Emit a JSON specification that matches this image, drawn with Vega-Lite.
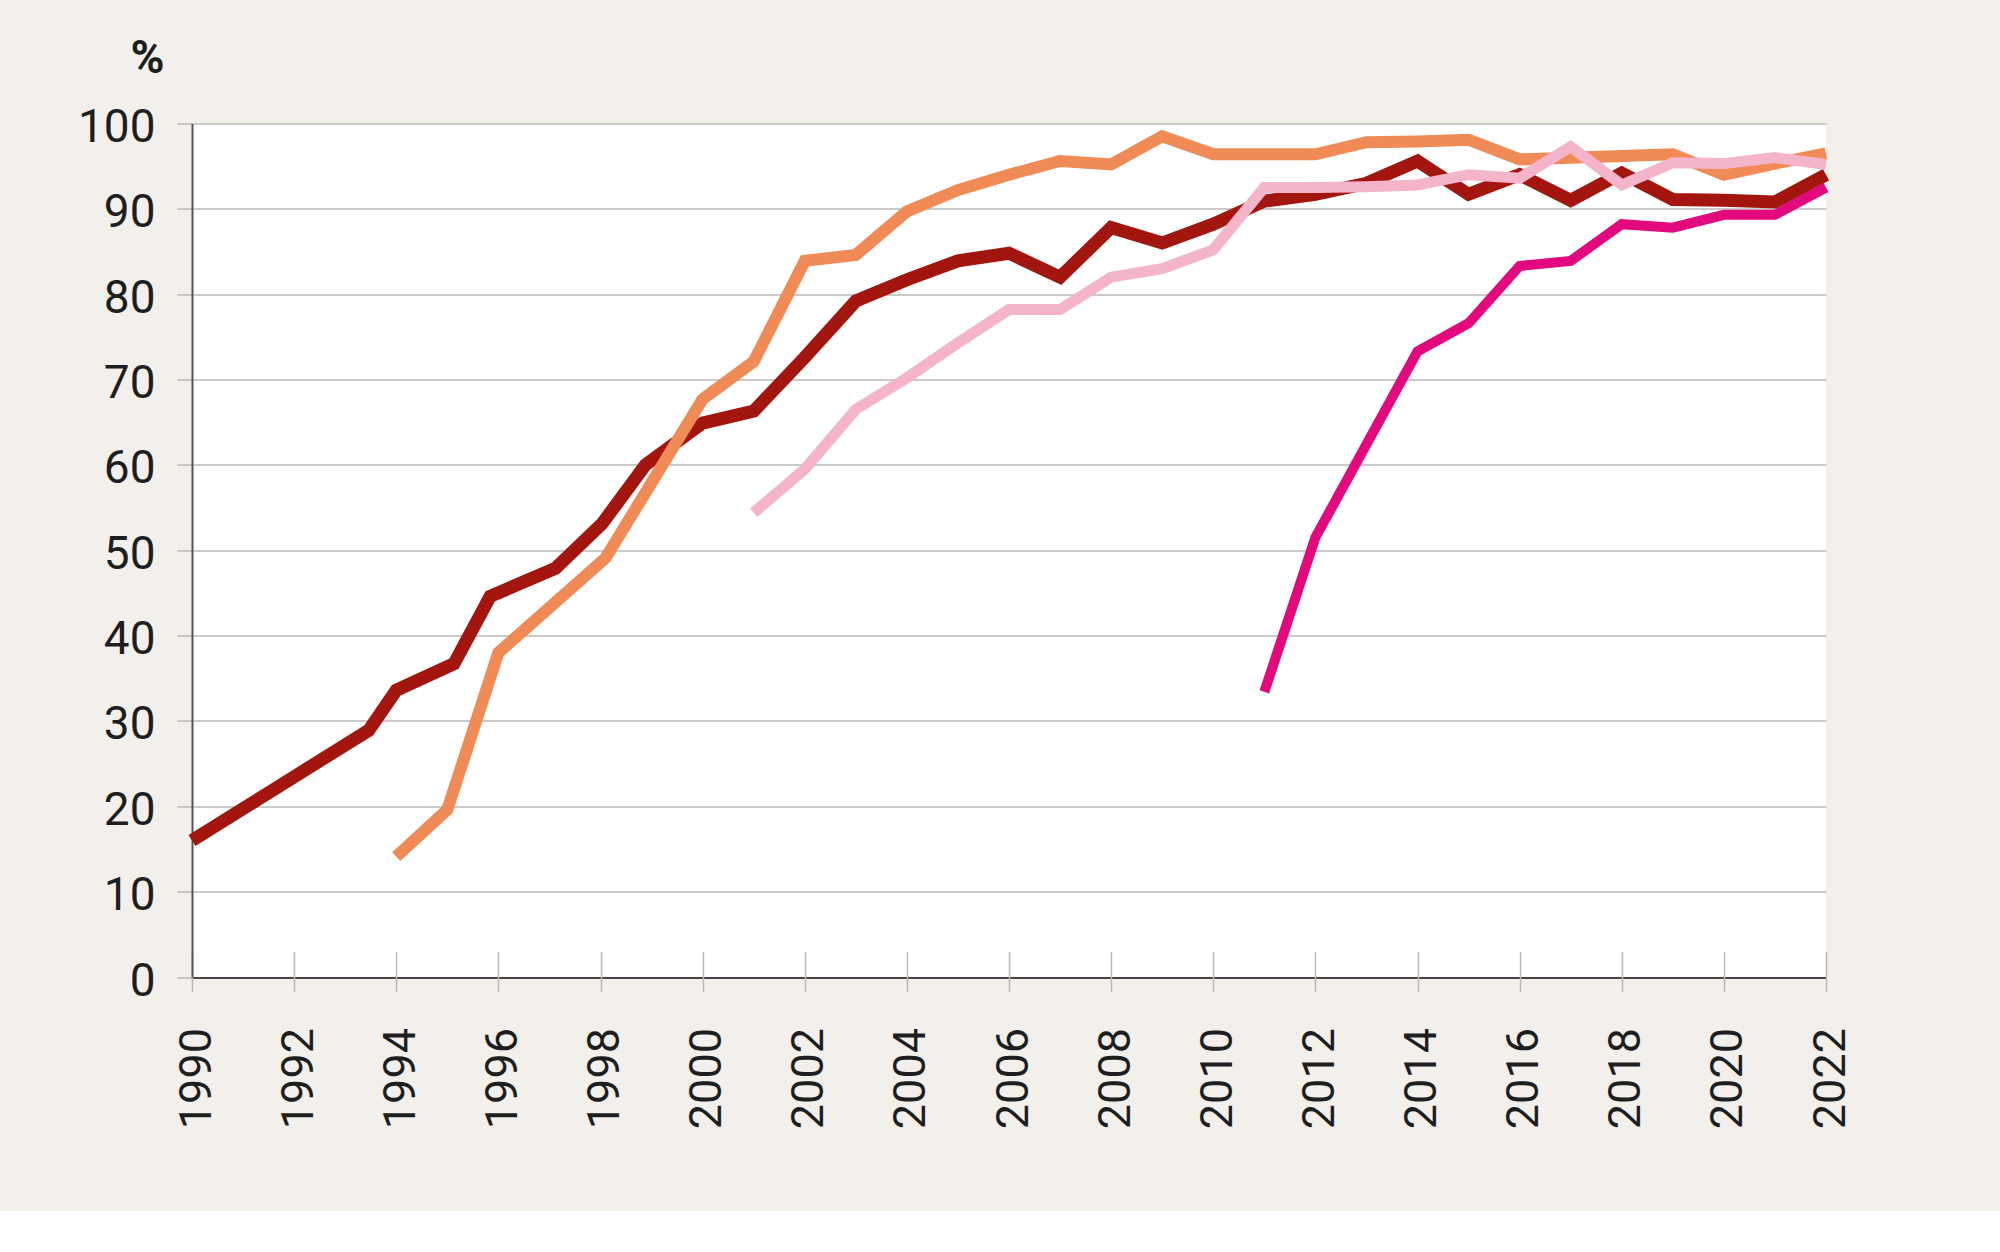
{
  "$schema": "https://vega.github.io/schema/vega-lite/v6.json",
  "width": 1634,
  "height": 853.5,
  "autosize": {"type": "none"},
  "padding": {"left": 192, "top": 123.5, "right": 174, "bottom": 234},
  "background": "#f3f0ec",
  "config": {"view": {"fill": "#ffffff", "stroke": null}},
  "data": {
    "values": [
      {"s": "1", "year": 1990, "value": 16.0},
      {"s": "1", "year": 1993.46, "value": 28.9},
      {"s": "1", "year": 1994, "value": 33.6},
      {"s": "1", "year": 1995.13, "value": 36.7},
      {"s": "1", "year": 1995.84, "value": 44.6},
      {"s": "1", "year": 1997.12, "value": 47.9},
      {"s": "1", "year": 1998.03, "value": 53.1},
      {"s": "1", "year": 1998.88, "value": 60.0},
      {"s": "1", "year": 2000, "value": 64.9},
      {"s": "1", "year": 2001, "value": 66.3},
      {"s": "1", "year": 2002, "value": 72.6},
      {"s": "1", "year": 2003, "value": 79.2},
      {"s": "1", "year": 2004, "value": 81.7},
      {"s": "1", "year": 2005, "value": 83.9},
      {"s": "1", "year": 2006, "value": 84.8},
      {"s": "1", "year": 2007, "value": 82.0},
      {"s": "1", "year": 2008, "value": 87.8},
      {"s": "1", "year": 2009, "value": 86.0},
      {"s": "1", "year": 2010, "value": 88.2},
      {"s": "1", "year": 2011, "value": 90.9},
      {"s": "1", "year": 2012, "value": 91.7},
      {"s": "1", "year": 2013, "value": 93.0},
      {"s": "1", "year": 2014, "value": 95.6},
      {"s": "1", "year": 2015, "value": 91.7},
      {"s": "1", "year": 2016, "value": 94.0},
      {"s": "1", "year": 2017, "value": 91.0},
      {"s": "1", "year": 2018, "value": 94.2},
      {"s": "1", "year": 2019, "value": 91.1},
      {"s": "1", "year": 2020, "value": 91.0},
      {"s": "1", "year": 2021, "value": 90.8},
      {"s": "1", "year": 2022, "value": 94.0},
      {"s": "2", "year": 1994, "value": 14.1},
      {"s": "2", "year": 1995, "value": 19.6},
      {"s": "2", "year": 1996, "value": 38.0},
      {"s": "2", "year": 1998.1, "value": 49.1},
      {"s": "2", "year": 2000, "value": 67.7},
      {"s": "2", "year": 2001, "value": 72.1},
      {"s": "2", "year": 2002, "value": 83.9},
      {"s": "2", "year": 2003, "value": 84.6},
      {"s": "2", "year": 2004, "value": 89.7},
      {"s": "2", "year": 2005, "value": 92.2},
      {"s": "2", "year": 2006, "value": 94.0},
      {"s": "2", "year": 2007, "value": 95.6},
      {"s": "2", "year": 2008, "value": 95.2},
      {"s": "2", "year": 2009, "value": 98.5},
      {"s": "2", "year": 2010, "value": 96.4},
      {"s": "2", "year": 2011, "value": 96.4},
      {"s": "2", "year": 2012, "value": 96.4},
      {"s": "2", "year": 2013, "value": 97.8},
      {"s": "2", "year": 2014, "value": 97.9},
      {"s": "2", "year": 2015, "value": 98.1},
      {"s": "2", "year": 2016, "value": 95.8},
      {"s": "2", "year": 2017, "value": 96.0},
      {"s": "2", "year": 2018, "value": 96.2},
      {"s": "2", "year": 2019, "value": 96.4},
      {"s": "2", "year": 2020, "value": 94.0},
      {"s": "2", "year": 2021, "value": 95.3},
      {"s": "2", "year": 2022, "value": 96.5},
      {"s": "3", "year": 2001, "value": 54.4},
      {"s": "3", "year": 2002, "value": 59.5},
      {"s": "3", "year": 2003, "value": 66.5},
      {"s": "3", "year": 2004, "value": 70.2},
      {"s": "3", "year": 2005, "value": 74.3},
      {"s": "3", "year": 2006, "value": 78.2},
      {"s": "3", "year": 2007, "value": 78.2},
      {"s": "3", "year": 2008, "value": 82.0},
      {"s": "3", "year": 2009, "value": 83.0},
      {"s": "3", "year": 2010, "value": 85.2},
      {"s": "3", "year": 2011, "value": 92.5},
      {"s": "3", "year": 2012, "value": 92.5},
      {"s": "3", "year": 2013, "value": 92.6},
      {"s": "3", "year": 2014, "value": 92.8},
      {"s": "3", "year": 2015, "value": 94.0},
      {"s": "3", "year": 2016, "value": 93.6},
      {"s": "3", "year": 2017, "value": 97.3},
      {"s": "3", "year": 2018, "value": 92.8},
      {"s": "3", "year": 2019, "value": 95.4},
      {"s": "3", "year": 2020, "value": 95.3},
      {"s": "3", "year": 2021, "value": 96.0},
      {"s": "3", "year": 2022, "value": 95.2},
      {"s": "4", "year": 2011, "value": 33.4},
      {"s": "4", "year": 2012, "value": 51.5},
      {"s": "4", "year": 2013, "value": 62.4},
      {"s": "4", "year": 2014, "value": 73.3},
      {"s": "4", "year": 2015, "value": 76.6},
      {"s": "4", "year": 2016, "value": 83.3},
      {"s": "4", "year": 2017, "value": 83.9},
      {"s": "4", "year": 2018, "value": 88.2},
      {"s": "4", "year": 2019, "value": 87.8},
      {"s": "4", "year": 2020, "value": 89.3},
      {"s": "4", "year": 2021, "value": 89.3},
      {"s": "4", "year": 2022, "value": 92.5}
    ]
  },
  "mark": {"type": "line", "strokeJoin": "miter", "strokeCap": "butt"},
  "encoding": {
    "x": {
      "field": "year",
      "type": "quantitative",
      "scale": {"domain": [1990, 2022], "nice": false, "zero": false},
      "axis": {
        "values": [1990, 1992, 1994, 1996, 1998, 2000, 2002, 2004, 2006, 2008, 2010, 2012, 2014, 2016, 2018, 2020, 2022],
        "format": "d",
        "title": null,
        "grid": false,
        "domain": false,
        "offset": -25.5,
        "tickSize": 40,
        "tickColor": "#b8b8b8",
        "tickWidth": 1.5,
        "labelAngle": -90,
        "labelAlign": "right",
        "labelBaseline": "middle",
        "labelPadding": 36,
        "labelOffset": 4,
        "labelFont": "Roboto",
        "labelFontSize": 45,
        "labelColor": "#1e1e1e"
      }
    },
    "y": {
      "field": "value",
      "type": "quantitative",
      "scale": {"domain": [0, 100], "nice": false},
      "axis": {
        "values": [0, 10, 20, 30, 40, 50, 60, 70, 80, 90, 100],
        "grid": true,
        "gridColor": {"condition": {"test": "datum.value === 0", "value": "#444444"}, "value": "#b8b8b8"},
        "gridWidth": {"condition": {"test": "datum.value === 0", "value": 2}, "value": 1.5},
        "domainColor": "#555555",
        "domainWidth": 2,
        "tickSize": 15,
        "tickColor": "#b8b8b8",
        "tickWidth": 1.5,
        "labelPadding": 22,
        "labelOffset": 4,
        "labelBaseline": "middle",
        "labelFont": "Roboto",
        "labelFontSize": 46,
        "labelColor": "#1e1e1e",
        "title": "%",
        "titleAngle": 0,
        "titleX": -28,
        "titleY": -51,
        "titleAlign": "right",
        "titleBaseline": "alphabetic",
        "titleFont": "Roboto",
        "titleFontWeight": "bold",
        "titleFontSize": 46,
        "titleColor": "#1e1e1e"
      }
    },
    "color": {
      "field": "s",
      "type": "nominal",
      "scale": {"domain": ["1", "2", "3", "4"], "range": ["#a3150f", "#f08a56", "#f4b5cb", "#e2097f"]},
      "legend": null
    },
    "size": {
      "field": "s",
      "type": "ordinal",
      "scale": {"domain": ["1", "2", "3", "4"], "range": [13, 10, 11, 11]},
      "legend": null
    }
  }
}
